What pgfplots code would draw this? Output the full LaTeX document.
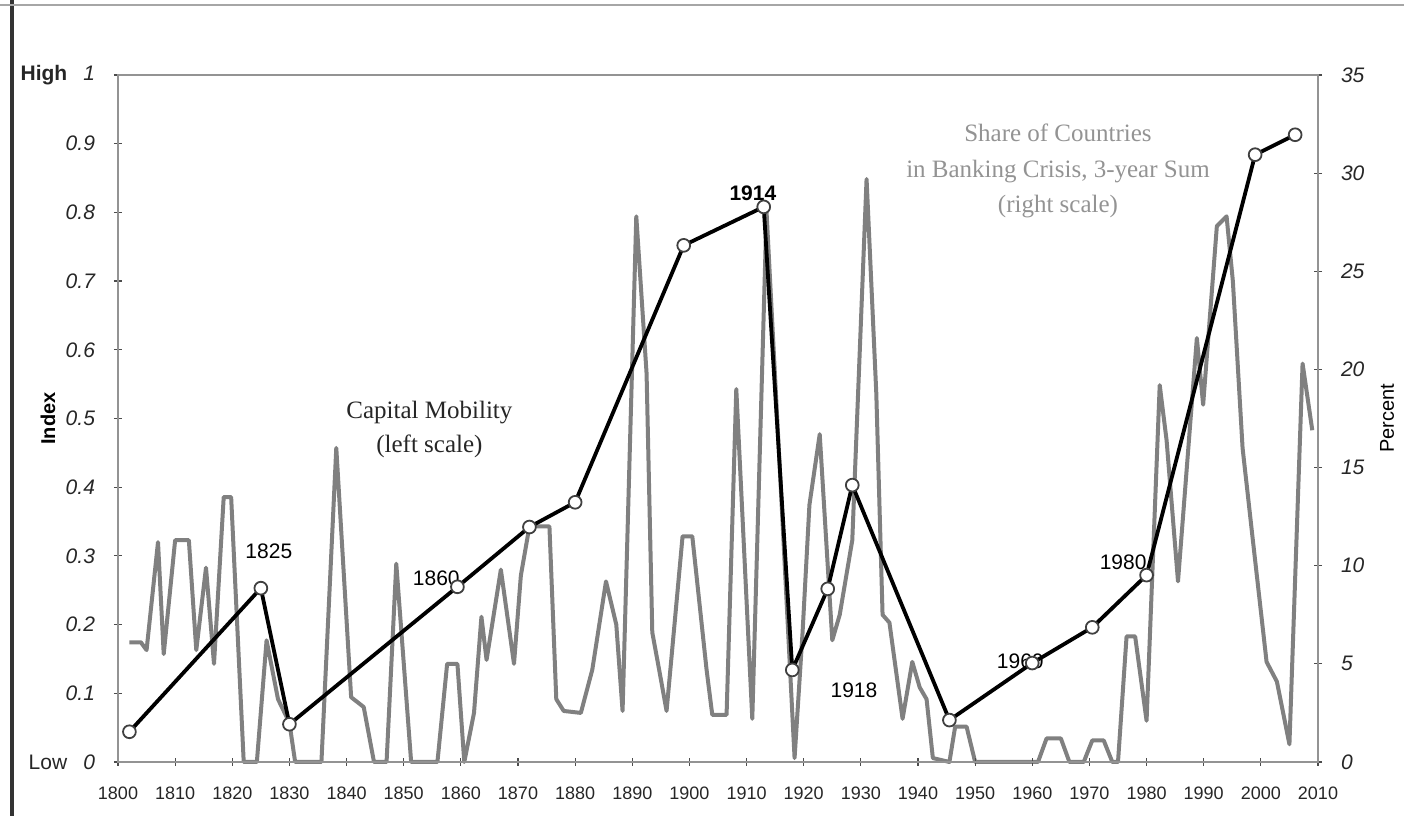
\documentclass[border=0pt]{standalone}
\usepackage{pgfplots}
\pgfplotsset{compat=1.18}
\usepackage{fontspec}
\setmainfont{Liberation Serif}
\setsansfont{Liberation Sans}
\pgfplotstableread{
year pct
1802 6.1
1804 6.1
1805 5.7
1807 11.2
1808 5.5
1810 11.3
1812.4 11.3
1813.7 5.7
1815.4 9.9
1816.8 5.0
1818.5 13.5
1819.8 13.5
1822 0
1824.3 0
1826 6.2
1828 3.2
1830 2.0
1831 0
1835.6 0
1838.2 16.0
1840.8 3.3
1843 2.8
1844.8 0
1847 0
1848.7 10.1
1851.3 0
1855.9 0
1857.6 5.0
1859.4 5.0
1860.6 0
1862.3 2.5
1863.6 7.4
1864.5 5.2
1867 9.8
1869.3 5.0
1870.5 9.5
1872 12.0
1875.5 12.0
1876.7 3.2
1878 2.6
1881 2.5
1883 4.7
1885.4 9.2
1887.2 7.0
1888.3 2.6
1890.7 27.8
1892.5 19.8
1893.5 6.6
1894.7 4.7
1896 2.6
1898.8 11.5
1900.5 11.5
1903 4.7
1904 2.4
1906.5 2.4
1908.2 19.0
1911 2.2
1913.5 28.0
1916.3 12.2
1918.4 0.2
1919.8 6.6
1921 13.1
1922.8 16.7
1925 6.2
1926.3 7.5
1928.5 11.3
1931 29.7
1932.7 18.8
1933.8 7.5
1935 7.1
1937.3 2.2
1939 5.1
1940.3 3.8
1941.5 3.2
1942.6 0.2
1945.5 0
1946.5 1.8
1948.5 1.8
1950 0
1961 0
1962.5 1.2
1965 1.2
1966.5 0
1969 0
1970.5 1.1
1972.5 1.1
1974 0
1975 0
1976.5 6.4
1978 6.4
1980 2.1
1982.3 19.2
1983.5 16.4
1985.5 9.2
1988.8 21.6
1989.9 18.2
1992.3 27.3
1994 27.8
1995.1 24.5
1996.8 16.0
1998.6 11.3
2001 5.1
2002.8 4.1
2005 0.9
2007.3 20.3
2009 16.9
}\crisis
\pgfplotstableread{
year idx
1802 0.044
1825 0.253
1830 0.055
1859.4 0.255
1872 0.342
1880 0.378
1899 0.752
1913 0.808
1918 0.134
1924.2 0.252
1928.5 0.403
1945.5 0.061
1960 0.144
1970.5 0.196
1980 0.272
1999 0.884
2006 0.913
}\mobility
\begin{document}
\begin{tikzpicture}[x=1pt,y=1pt]
\pgfplotsset{
  base/.style={scale only axis, width=600pt, height=343.5pt,
    xmin=1800, xmax=2010, at={(0,0)}, anchor=south west,
    axis line style={gray!85, line width=1pt},
    tick style={gray!60!black, line width=0.6pt},
    major tick length=4pt,
    /pgf/number format/assume math mode=true,
    clip=false},
}
% right scale: banking crises
\begin{axis}[base, ymin=0, ymax=35,
  axis x line=none, axis y line*=right,
  ytick={0,5,...,35}, tick align=center,
  yticklabel style={font=\sffamily\itshape\fontsize{10.5}{12}\selectfont, anchor=west, xshift=6pt, text=black!85},
]
\addplot[black!50, line width=2pt, line join=round] table[x=year, y=pct] {\crisis};
\end{axis}
% left scale: capital mobility
\begin{axis}[base, ymin=0, ymax=1,
  xtick={1800,1810,...,2010}, xtick pos=bottom, ytick pos=left,
  tick align=center,
  ytick={0,0.1,...,1},
  yticklabels={{\upshape Low}\hspace{8pt}0,0.1,0.2,0.3,0.4,0.5,0.6,0.7,0.8,0.9,{\upshape\bfseries High}\hspace{8pt}1},
  yticklabel style={font=\sffamily\itshape\fontsize{10.5}{12}\selectfont, anchor=east, xshift=-6pt, text=black!85},
  xticklabel style={font=\sffamily\fontsize{9}{10}\selectfont, yshift=-7pt, text=black!85, /pgf/number format/1000 sep={}},
]
\addplot[black, line width=1.9pt, line join=round,
  mark=*, mark size=3.2pt, mark options={fill=white, draw=black!75, line width=0.9pt}]
  table[x=year, y=idx] {\mobility};
\node[font=\fontsize{12.5}{14}\selectfont, text=black!85] at (axis cs:1854.5,0.509) {Capital Mobility};
\node[font=\fontsize{12.5}{14}\selectfont, text=black!85] at (axis cs:1854.5,0.459) {(left scale)};
\node[font=\fontsize{12.5}{14}\selectfont, text=gray!85] at (axis cs:1964.5,0.916) {Share of Countries};
\node[font=\fontsize{12.5}{14}\selectfont, text=gray!85] at (axis cs:1964.5,0.859) {in Banking Crisis, 3-year Sum};
\node[font=\fontsize{12.5}{14}\selectfont, text=gray!85] at (axis cs:1964.5,0.808) {(right scale)};
\node[font=\sffamily\fontsize{10.5}{12}\selectfont] at (axis cs:1826.4,0.306) {1825};
\node[font=\sffamily\fontsize{10.5}{12}\selectfont] at (axis cs:1855.7,0.268) {1860};
\node[font=\sffamily\bfseries\fontsize{10.5}{12}\selectfont] at (axis cs:1911.1,0.828) {1914};
\node[font=\sffamily\fontsize{10.5}{12}\selectfont] at (axis cs:1928.8,0.105) {1918};
\node[font=\sffamily\fontsize{10.5}{12}\selectfont] at (axis cs:1957.9,0.146) {1960};
\node[font=\sffamily\fontsize{10.5}{12}\selectfont] at (axis cs:1975.9,0.290) {1980};
\end{axis}
\node[rotate=90, font=\sffamily\bfseries\fontsize{10}{12}\selectfont] at (-35pt,171.75pt) {Index};
\node[rotate=90, font=\sffamily\fontsize{10}{12}\selectfont] at (634.5pt,171.75pt) {Percent};
% scan border
\draw[black!80, line width=1.8pt] (-53pt,381pt) -- (-53pt,-27pt);
\draw[gray!70, line width=1.4pt] (-59pt,378.5pt) -- (643pt,378.5pt);
\pgfresetboundingbox
\path[use as bounding box] (-59pt,-30pt) rectangle (643pt,381pt);
\end{tikzpicture}
\end{document}
